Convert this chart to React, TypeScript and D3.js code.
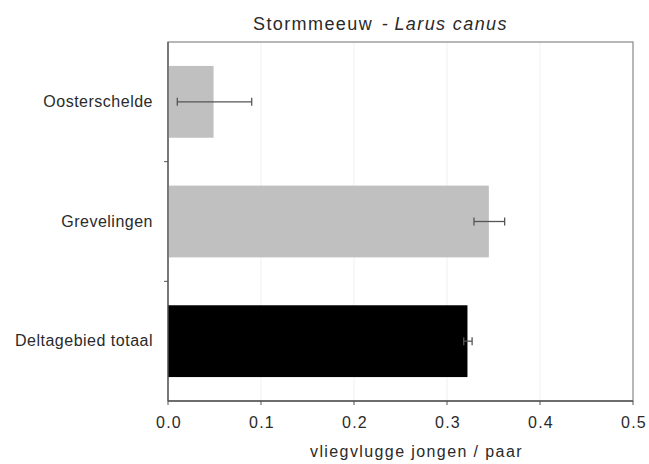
import React from "react";
import * as d3 from "d3";

const categories = ["Oosterschelde", "Grevelingen", "Deltagebied totaal"];
const values = [0.049, 0.345, 0.322];
const errLow = [0.01, 0.329, 0.318];
const errHigh = [0.09, 0.362, 0.327];
const barColors = ["#c0c0c0", "#c0c0c0", "#000000"];
const xTicks = [0, 0.1, 0.2, 0.3, 0.4, 0.5];

const W = 649;
const H = 464;
const margin = { left: 168, right: 16, top: 42, bottom: 63 };

export default function App() {
  const x = d3.scaleLinear().domain([0, 0.5]).range([margin.left, W - margin.right]);
  const y = d3
    .scaleBand<string>()
    .domain(categories)
    .range([margin.top, H - margin.bottom])
    .paddingInner(0.4)
    .paddingOuter(0.2);
  const step = y.step();
  const x0 = x(0);
  const yBottom = H - margin.bottom;
  const font = "Liberation Sans, Arial, sans-serif";
  const textColor = "#2a2a2a";

  return (
    <svg
      width={W}
      height={H}
      style={{ position: "absolute", left: 0, top: 0, background: "#fff" }}
      fontFamily={font}
    >
      {/* faint vertical gridlines */}
      {xTicks.slice(1, -1).map((t) => (
        <line key={"g" + t} x1={x(t)} x2={x(t)} y1={margin.top} y2={yBottom} stroke="#f0f0f0" strokeWidth={1} />
      ))}
      {/* plot frame */}
      <rect
        x={x0}
        y={margin.top}
        width={x(0.5) - x0}
        height={yBottom - margin.top}
        fill="none"
        stroke="#888"
        strokeWidth={1.2}
      />
      {/* bars */}
      {categories.map((c, i) => (
        <rect
          key={"b" + c}
          x={x0}
          y={y(c)!}
          width={x(values[i]) - x0}
          height={y.bandwidth()}
          fill={barColors[i]}
        />
      ))}
      {/* error bars */}
      {categories.map((c, i) => {
        const cy = y(c)! + y.bandwidth() / 2;
        return (
          <g key={"e" + c} stroke="#555" strokeWidth={1.3}>
            <line x1={x(errLow[i])} x2={x(errHigh[i])} y1={cy} y2={cy} />
            <line x1={x(errLow[i])} x2={x(errLow[i])} y1={cy - 4} y2={cy + 4} />
            <line x1={x(errHigh[i])} x2={x(errHigh[i])} y1={cy - 4} y2={cy + 4} />
          </g>
        );
      })}
      {/* y axis */}
      <line x1={x0} x2={x0} y1={margin.top} y2={yBottom} stroke="#555" strokeWidth={1.3} />
      {[1, 2].map((k) => {
        const ty = margin.top + k * step;
        return <line key={"yt" + k} x1={x0 - 4} x2={x0} y1={ty} y2={ty} stroke="#555" strokeWidth={1} />;
      })}
      {categories.map((c) => (
        <text
          key={"l" + c}
          x={153}
          y={y(c)! + y.bandwidth() / 2 + 5}
          textAnchor="end"
          fontSize={16}
          letterSpacing={0.5}
          fill={textColor}
        >
          {c}
        </text>
      ))}
      {/* x axis */}
      <line x1={x0} x2={x(0.5)} y1={yBottom} y2={yBottom} stroke="#555" strokeWidth={1.3} />
      {xTicks.map((t) => (
        <g key={"xt" + t}>
          <line x1={x(t)} x2={x(t)} y1={yBottom} y2={yBottom + 4} stroke="#555" strokeWidth={1} />
          <text x={x(t) + 1} y={428} textAnchor="middle" fontSize={16} letterSpacing={1.2} fill={textColor}>
            {d3.format(".1f")(t)}
          </text>
        </g>
      ))}
      <text x={310} y={457} fontSize={16} letterSpacing={1.4} fill={textColor}>
        vliegvlugge jongen / paar
      </text>
      {/* title */}
      <text x={253} y={29.5} fontSize={18} letterSpacing={1.4} fill={textColor}>
        Stormmeeuw
        <tspan dx={9}>-</tspan>
        <tspan dx={5} fontStyle="italic">Larus canus</tspan>
      </text>
    </svg>
  );
}
